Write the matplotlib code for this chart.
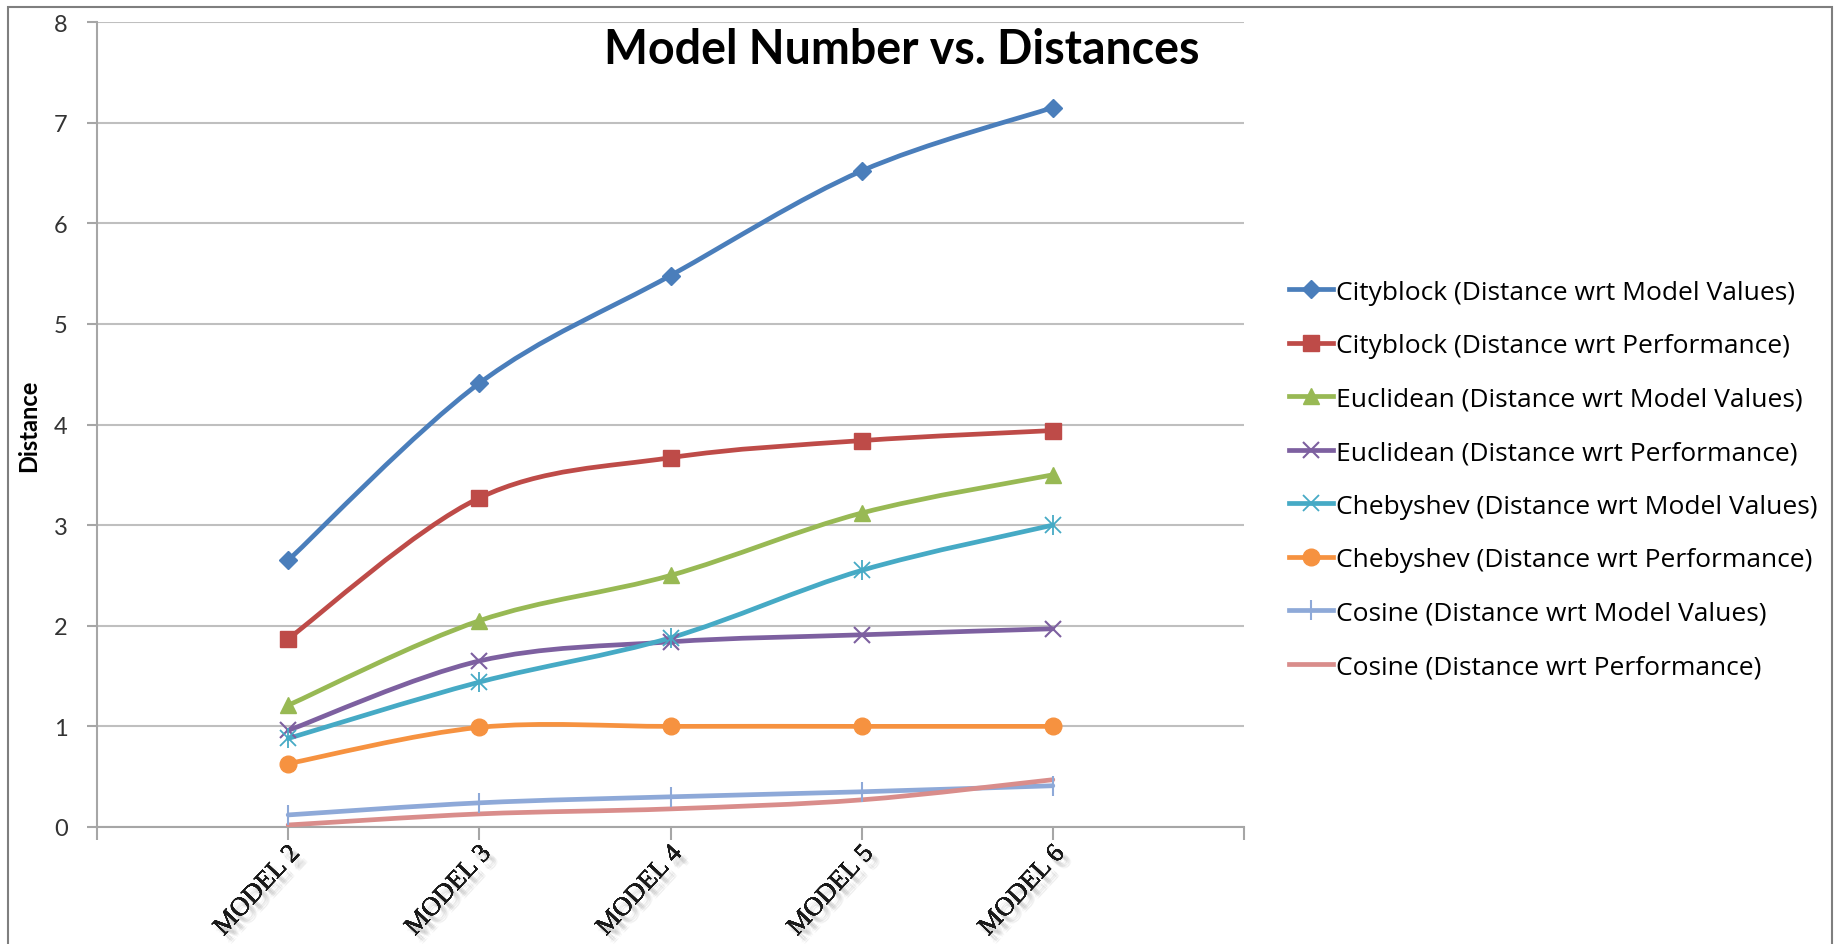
import matplotlib
matplotlib.use("Agg")
import matplotlib.pyplot as plt
import numpy as np
from matplotlib.path import Path
from matplotlib.patches import PathPatch, Rectangle
from matplotlib.lines import Line2D
import matplotlib.patheffects as pe

# ---- data ----
model_pos = [2, 3, 4, 5, 6]
model_labels = ["MODEL 2", "MODEL 3", "MODEL 4", "MODEL 5", "MODEL 6"]

cityblock_model = [2.65, 4.41, 5.48, 6.52, 7.15]
cityblock_perf = [1.87, 3.27, 3.67, 3.84, 3.94]
euclid_model = [1.21, 2.05, 2.50, 3.12, 3.50]
euclid_perf = [0.96, 1.65, 1.84, 1.91, 1.97]
cheby_model = [0.88, 1.44, 1.88, 2.55, 3.00]
cheby_perf = [0.63, 0.99, 1.00, 1.00, 1.00]
cosine_model = [0.12, 0.24, 0.30, 0.35, 0.41]
cosine_perf = [0.02, 0.13, 0.18, 0.27, 0.47]

series_names = [
    "Cityblock (Distance wrt Model Values)",
    "Cityblock (Distance wrt Performance)",
    "Euclidean (Distance wrt Model Values)",
    "Euclidean (Distance wrt Performance)",
    "Chebyshev (Distance wrt Model Values)",
    "Chebyshev (Distance wrt Performance)",
    "Cosine (Distance wrt Model Values)",
    "Cosine (Distance wrt Performance)",
]
series_values = [cityblock_model, cityblock_perf, euclid_model, euclid_perf,
                 cheby_model, cheby_perf, cosine_model, cosine_perf]

colors = ["#4A7EBB", "#BE4B48", "#98B954", "#7D60A0",
          "#46AAC5", "#F69240", "#8EA9D8", "#D98D8B"]
markers = ["D", "s", "^", "x", "*x", "o", "|", None]
msizes = [9, 12, 11, 11, 12, 12, 14, 0]

FONT = ["Lato", "DejaVu Sans"]
LFONT = ["Open Sans", "DejaVu Sans"]


def smooth_path(xs, ys):
    pts = np.column_stack([xs, ys]).astype(float)
    n = len(pts)
    verts = [pts[0]]
    codes = [Path.MOVETO]
    for i in range(n - 1):
        p0 = pts[i - 1] if i > 0 else pts[i]
        p1 = pts[i]
        p2 = pts[i + 1]
        p3 = pts[i + 2] if i + 2 < n else pts[i + 1]
        c1 = p1 + (p2 - p0) / 6.0
        c2 = p2 - (p3 - p1) / 6.0
        verts += [c1, c2, p2]
        codes += [Path.CURVE4] * 3
    return Path(verts, codes)


fig = plt.figure(figsize=(18.47, 9.45), dpi=100)
fig.patch.set_facecolor("white")

# outer frame
fig.patches.append(Rectangle((8 / 1847, -0.05), (1832 - 8) / 1847, 1.05 - 8 / 945,
                             transform=fig.transFigure, fill=False,
                             edgecolor="#7F7F7F", linewidth=1.5))

ax = fig.add_axes([97 / 1847, 1 - 828 / 945, (1244 - 97) / 1847, (828 - 23) / 945])
ax.set_xlim(1, 7)
ax.set_ylim(0, 8)

ax.yaxis.grid(True, color="#BFBFBF", linewidth=1.5)
ax.set_axisbelow(True)
for s in ["top", "right"]:
    ax.spines[s].set_visible(False)
for s in ["left", "bottom"]:
    ax.spines[s].set_color("#A6A6A6")
    ax.spines[s].set_linewidth(1.5)

ax.set_yticks(range(0, 9))
ax.set_yticklabels([str(v) for v in range(0, 9)], fontsize=17, family=FONT, color="#333333")
ax.tick_params(axis="y", length=7, width=1.5, color="#A6A6A6", pad=14)

ax.set_xticks(range(1, 8))
ax.set_xticklabels([""] + model_labels + [""])
ax.tick_params(axis="x", length=9, width=1.5, color="#A6A6A6", pad=2)
shadow = [pe.withSimplePatchShadow(offset=(dx, dy), shadow_rgbFace="#808080", alpha=0.07)
          for dx, dy in [(2, -3), (3, -4), (4, -5), (5, -4), (4, -3), (3, -5), (5, -6), (6, -5)]]
for lab in ax.get_xticklabels():
    lab.set_family(["Liberation Serif", "DejaVu Serif"])
    lab.set_fontsize(19)
    lab.set_rotation(47)
    lab.set_ha("right")
    lab.set_va("top")
    lab.set_rotation_mode("anchor")
    lab.set_color("#1a1a1a")
    lab.set_path_effects(shadow + [pe.Normal()])

handles = []
for name, vals, col, mk, ms in zip(series_names, series_values, colors, markers, msizes):
    patch = PathPatch(smooth_path(model_pos, vals), facecolor="none", edgecolor=col,
                      linewidth=3.4, capstyle="round", joinstyle="round", zorder=3)
    ax.add_patch(patch)
    if mk == "*x":
        ax.plot(model_pos, vals, linestyle="none", marker="x", markersize=ms,
                markeredgewidth=1.3, color=col, zorder=4)
        ax.plot(model_pos, vals, linestyle="none", marker="|", markersize=ms + 2,
                markeredgewidth=1.3, color=col, zorder=4)
        h = Line2D([], [], color=col, linewidth=3.4, marker="x", markersize=ms,
                   markeredgewidth=1.3)
    elif mk is None:
        h = Line2D([], [], color=col, linewidth=3.4)
    else:
        mew = 1.5 if mk in ("x", "|") else 1
        ax.plot(model_pos, vals, linestyle="none", marker=mk, markersize=ms,
                markeredgewidth=mew, color=col, zorder=4)
        h = Line2D([], [], color=col, linewidth=3.4, marker=mk, markersize=ms,
                   markeredgewidth=mew)
    handles.append(h)

ax.set_ylabel("Distance", fontsize=17, fontweight="bold", family=FONT, color="black")
ax.yaxis.set_label_coords(-0.05, 0.5)

fig.text(0.488, 0.947, "Model Number vs. Distances", fontsize=33.5, fontweight="bold",
         family=FONT, ha="center", va="center", color="black")

fig.legend(handles, series_names, loc="upper left",
           bbox_to_anchor=(1278 / 1847, 1 - 270 / 945), frameon=False,
           prop={"family": LFONT, "size": 19}, handlelength=1.7, handletextpad=0.1,
           labelspacing=1.08, borderaxespad=0)

fig.savefig("out.png", dpi=100)
